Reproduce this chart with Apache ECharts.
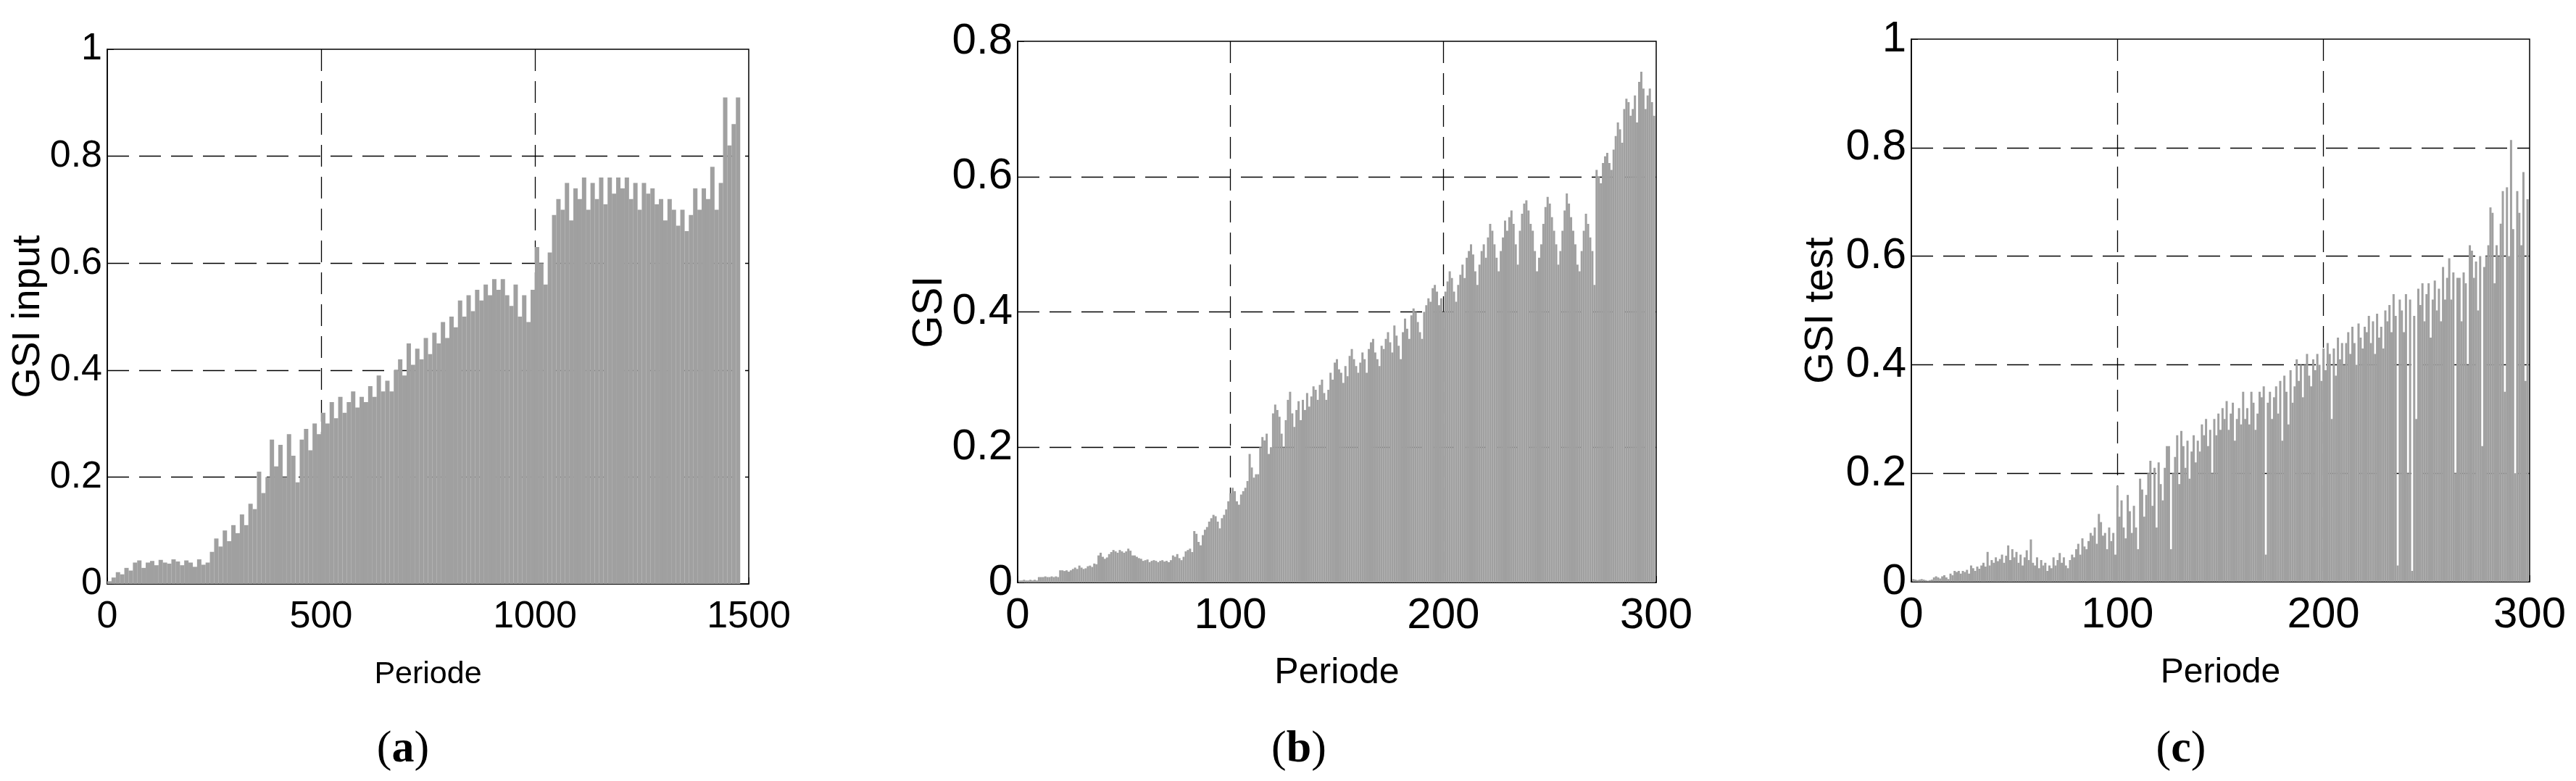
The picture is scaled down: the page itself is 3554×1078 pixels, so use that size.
<!DOCTYPE html>
<html><head><meta charset="utf-8">
<script src="https://cdn.jsdelivr.net/npm/echarts@6/dist/echarts.min.js"></script>
<style>html,body{margin:0;padding:0;background:#fff}#c{width:3554px;height:1078px}</style>
</head><body><div id="c"></div><script>
// ---------- data ----------
// (a) GSI input, read in bins of 10 periods (bin i covers periods 10i..10i+10)
const binSizeA = 10;
const gsiInput = [
0.005,0.012,0.022,0.018,0.03,0.025,0.04,0.044,0.03,0.04,
0.043,0.035,0.045,0.04,0.038,0.046,0.042,0.035,0.044,0.04,
0.032,0.046,0.036,0.04,0.06,0.085,0.07,0.1,0.08,0.11,
0.095,0.13,0.11,0.15,0.14,0.21,0.17,0.2,0.27,0.22,
0.26,0.2,0.28,0.24,0.19,0.27,0.29,0.25,0.3,0.28,
0.32,0.3,0.34,0.31,0.35,0.32,0.34,0.36,0.33,0.35,
0.34,0.37,0.35,0.39,0.36,0.38,0.36,0.4,0.42,0.39,
0.45,0.41,0.44,0.42,0.46,0.43,0.47,0.45,0.49,0.46,
0.5,0.48,0.53,0.5,0.54,0.51,0.55,0.53,0.56,0.54,
0.57,0.55,0.57,0.54,0.52,0.56,0.5,0.54,0.49,0.55,
0.63,0.6,0.56,0.62,0.69,0.72,0.7,0.75,0.68,0.74,
0.72,0.76,0.7,0.75,0.72,0.76,0.71,0.76,0.73,0.76,
0.74,0.76,0.72,0.75,0.7,0.75,0.73,0.74,0.71,0.72,
0.68,0.72,0.7,0.67,0.7,0.66,0.69,0.74,0.7,0.74,
0.72,0.78,0.7,0.75,0.91,0.82,0.86,0.91
];
// (b) GSI, periods 1..299
const gsiB = [
0.003,0.003,0.004,0.003,0.003,0.004,0.003,0.004,0.003,0.008,
0.008,0.008,0.009,0.008,0.008,0.009,0.008,0.009,0.008,0.018,
0.018,0.017,0.018,0.016,0.018,0.02,0.022,0.02,0.025,0.022,
0.02,0.021,0.024,0.025,0.023,0.028,0.027,0.04,0.044,0.038,
0.035,0.037,0.042,0.045,0.048,0.046,0.044,0.048,0.046,0.044,
0.046,0.05,0.047,0.04,0.04,0.038,0.036,0.035,0.032,0.033,
0.034,0.03,0.032,0.033,0.032,0.03,0.032,0.033,0.031,0.032,
0.03,0.033,0.04,0.038,0.042,0.036,0.033,0.038,0.046,0.048,
0.05,0.045,0.076,0.072,0.06,0.055,0.07,0.078,0.082,0.09,
0.095,0.1,0.098,0.09,0.08,0.095,0.1,0.108,0.12,0.132,
0.14,0.135,0.12,0.115,0.13,0.135,0.14,0.15,0.19,0.17,
0.155,0.16,0.16,0.2,0.215,0.21,0.22,0.19,0.2,0.25,
0.263,0.255,0.245,0.22,0.2,0.24,0.27,0.282,0.25,0.23,
0.255,0.268,0.24,0.27,0.255,0.28,0.26,0.275,0.29,0.285,
0.27,0.292,0.3,0.28,0.27,0.285,0.31,0.3,0.325,0.33,
0.315,0.31,0.295,0.32,0.305,0.335,0.345,0.33,0.32,0.31,
0.325,0.34,0.33,0.31,0.345,0.355,0.36,0.34,0.33,0.32,
0.35,0.345,0.36,0.37,0.355,0.34,0.38,0.365,0.35,0.33,
0.37,0.39,0.375,0.36,0.395,0.405,0.4,0.385,0.37,0.36,
0.4,0.41,0.42,0.415,0.435,0.44,0.43,0.41,0.42,0.4,
0.43,0.445,0.46,0.45,0.43,0.415,0.44,0.455,0.47,0.45,
0.48,0.49,0.5,0.485,0.46,0.44,0.47,0.49,0.5,0.48,
0.51,0.53,0.52,0.5,0.48,0.46,0.49,0.51,0.535,0.52,
0.54,0.55,0.53,0.5,0.47,0.52,0.545,0.56,0.565,0.55,
0.53,0.52,0.49,0.46,0.48,0.5,0.53,0.555,0.57,0.56,
0.54,0.52,0.5,0.47,0.49,0.52,0.55,0.575,0.56,0.54,
0.52,0.5,0.47,0.46,0.49,0.52,0.545,0.53,0.51,0.49,
0.44,0.61,0.6,0.59,0.62,0.63,0.635,0.62,0.61,0.64,
0.66,0.68,0.67,0.65,0.7,0.715,0.71,0.69,0.7,0.72,
0.68,0.74,0.755,0.73,0.7,0.72,0.73,0.71,0.69
];
// (c) GSI test, periods 1..299
const gsiTest = [
0.005,0.004,0.003,0.004,0.005,0.004,0.003,0.002,0.003,0.004,
0.008,0.01,0.008,0.006,0.01,0.012,0.008,0.005,0.015,0.012,
0.02,0.018,0.02,0.015,0.02,0.018,0.022,0.015,0.03,0.025,
0.02,0.028,0.024,0.03,0.035,0.028,0.055,0.03,0.04,0.035,
0.045,0.038,0.042,0.05,0.035,0.048,0.067,0.04,0.06,0.045,
0.055,0.035,0.05,0.03,0.045,0.058,0.04,0.078,0.035,0.03,
0.045,0.025,0.04,0.03,0.035,0.02,0.03,0.025,0.045,0.03,
0.04,0.053,0.035,0.045,0.03,0.025,0.04,0.05,0.045,0.06,
0.07,0.05,0.08,0.065,0.06,0.075,0.09,0.085,0.1,0.07,
0.125,0.11,0.085,0.09,0.06,0.1,0.075,0.09,0.05,0.177,
0.12,0.15,0.1,0.08,0.16,0.13,0.09,0.14,0.1,0.06,
0.19,0.17,0.12,0.16,0.2,0.223,0.14,0.21,0.1,0.22,
0.18,0.15,0.21,0.25,0.25,0.06,0.2,0.23,0.27,0.18,
0.278,0.25,0.21,0.26,0.19,0.24,0.27,0.22,0.26,0.24,
0.29,0.27,0.3,0.25,0.28,0.2,0.3,0.27,0.31,0.28,
0.32,0.3,0.333,0.28,0.31,0.33,0.26,0.3,0.32,0.29,
0.35,0.3,0.32,0.29,0.35,0.33,0.28,0.31,0.35,0.34,
0.36,0.05,0.33,0.35,0.3,0.34,0.36,0.31,0.37,0.26,
0.38,0.35,0.29,0.39,0.33,0.36,0.41,0.37,0.4,0.34,
0.4,0.42,0.38,0.36,0.41,0.39,0.42,0.4,0.37,0.43,
0.39,0.44,0.42,0.3,0.43,0.38,0.45,0.41,0.44,0.4,
0.44,0.46,0.42,0.47,0.44,0.4,0.476,0.45,0.43,0.47,
0.46,0.49,0.44,0.48,0.42,0.494,0.45,0.47,0.43,0.5,
0.48,0.51,0.46,0.53,0.49,0.03,0.52,0.5,0.46,0.53,
0.2,0.52,0.02,0.49,0.3,0.54,0.51,0.55,0.48,0.53,
0.55,0.45,0.52,0.555,0.5,0.54,0.48,0.58,0.52,0.56,
0.596,0.52,0.57,0.2,0.56,0.56,0.48,0.57,0.55,0.4,
0.62,0.61,0.56,0.59,0.5,0.6,0.25,0.58,0.6,0.62,
0.69,0.68,0.55,0.62,0.6,0.66,0.72,0.35,0.727,0.6,
0.814,0.65,0.2,0.72,0.68,0.62,0.755,0.37,0.705
];
// axis ranges / ticks
const xRangeA = [0, 1500], xStepA = 500;
const xRangeBC = [0, 300], xStepBC = 100;
const yRangeA = [0, 1], yRangeB = [0, 0.8], yRangeC = [0, 1], yStep = 0.2;
const yNames = ['GSI input', 'GSI', 'GSI test'];
const xName = 'Periode';
const panelTags = ['a', 'b', 'c'];

// ---------- chart ----------
const REG = '"Liberation Sans",Arial,Helvetica,sans-serif';
const SERIF = '"Liberation Serif","DejaVu Serif",serif';
const BAR = '#a0a0a0';
const grids = [
  {left: 148, top: 68, width: 885, height: 738},
  {left: 1404, top: 57, width: 881, height: 747},
  {left: 2637, top: 54, width: 853, height: 749}
];
const panels = [
  {xr: xRangeA, xs: xStepA, yr: yRangeA, tick: 52, tickM: 20, nameSize: 54, nameGap: 82, xNameSize: 43, xNameGap: 104,
   data: gsiInput.map((v, i) => [i * binSizeA + binSizeA / 2, v]), barW: 6},
  {xr: xRangeBC, xs: xStepBC, yr: yRangeB, tick: 60, tickM: 16, nameSize: 58, nameGap: 92, xNameSize: 50, xNameGap: 100,
   data: gsiB.map((v, i) => [i + 1, v]), barW: 3},
  {xr: xRangeBC, xs: xStepBC, yr: yRangeC, tick: 60, tickM: 16, nameSize: 56, nameGap: 96, xNameSize: 48, xNameGap: 102,
   data: gsiTest.map((v, i) => [i + 1, v]), barW: 3}
];
const dash = {color: '#000', width: 1.3, type: [30, 14]};
const fmt = v => String(Math.round(v * 100) / 100);
const option = {
  animation: false,
  backgroundColor: '#fff',
  grid: grids.map(g => Object.assign({show: true, borderColor: '#000', borderWidth: 1.5, backgroundColor: 'transparent'}, g)),
  xAxis: panels.map((p, i) => ({
    gridIndex: i, type: 'value', min: p.xr[0], max: p.xr[1], interval: p.xs,
    axisLine: {show: true, onZero: false, lineStyle: {color: '#000', width: 1.5}},
    axisTick: {show: true, inside: true, length: 9, lineStyle: {color: '#000', width: 1}},
    axisLabel: {color: '#000', fontFamily: REG, fontSize: p.tick, margin: p.tickM, formatter: fmt},
    splitLine: {show: true, showMinLine: false, showMaxLine: false, lineStyle: dash},
    name: xName, nameLocation: 'middle', nameGap: p.xNameGap, nameMoveOverlap: false,
    nameTextStyle: {color: '#000', fontFamily: REG, fontSize: p.xNameSize}
  })),
  yAxis: panels.map((p, i) => ({
    gridIndex: i, type: 'value', min: p.yr[0], max: p.yr[1], interval: yStep,
    axisLine: {show: true, lineStyle: {color: '#000', width: 1.5}},
    axisTick: {show: true, inside: true, length: 9, lineStyle: {color: '#000', width: 1}},
    axisLabel: {color: '#000', fontFamily: REG, fontSize: p.tick, margin: 7, formatter: fmt},
    splitLine: {show: true, showMinLine: false, showMaxLine: false, lineStyle: dash},
    name: yNames[i], nameLocation: 'middle', nameGap: p.nameGap, nameMoveOverlap: false,
    nameTextStyle: {color: '#000', fontFamily: REG, fontSize: p.nameSize}
  })),
  series: panels.map((p, i) => ({
    type: 'bar', xAxisIndex: i, yAxisIndex: i, data: p.data,
    barWidth: p.barW, itemStyle: {color: BAR}, silent: true
  })),
  graphic: panelTags.map((t, i) => ({
    type: 'text',
    x: [556, 1792, 3009][i], y: 1035,
    style: {
      text: '{p|(}{b|' + t + '}{p|)}',
      align: 'center', verticalAlign: 'middle',
      rich: {
        p: {fontFamily: SERIF, fontSize: 62, fill: '#000'},
        b: {fontFamily: SERIF, fontSize: 62, fontWeight: 'bold', fill: '#000'}
      }
    }
  }))
};
const chart = echarts.init(document.getElementById('c'), null, {renderer: 'canvas'});
chart.setOption(option);
</script></body></html>
